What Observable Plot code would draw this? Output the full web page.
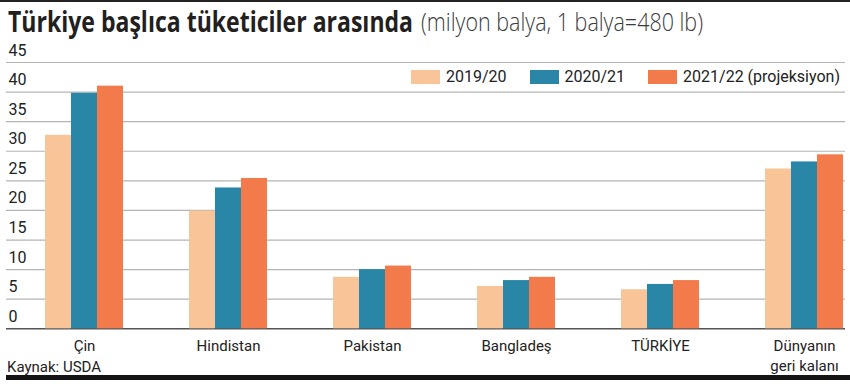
<!DOCTYPE html>
<html>
<head>
<meta charset="utf-8">
<script src="https://cdn.jsdelivr.net/npm/d3@7"></script>
<script src="https://cdn.jsdelivr.net/npm/@observablehq/plot@0.6"></script>
<style>
  html, body { margin: 0; padding: 0; background: #fff; }
  #wrap { position: relative; width: 850px; height: 384px; overflow: hidden; font-family: Roboto, "Open Sans", sans-serif; color: #222; }
  #topline { position: absolute; left: 0; top: 0; width: 850px; height: 2px; background: #222; }
  .ttl { position: absolute; display: inline-block; white-space: nowrap; transform-origin: 0 0; line-height: 1; }
  #t1 { left: 8px; top: 7px; font-family: "Open Sans", sans-serif; font-weight: 700; font-size: 28px; color: #231f20; }
  #t2 { left: 421px; top: 9px; font-family: "Open Sans", sans-serif; font-weight: 300; font-size: 25px; color: #3a3a3a; }
  .layer { position: absolute; left: 0; top: 40px; }
  #legend { position: absolute; right: 10px; top: 70px; display: flex; align-items: center; font-size: 16px; line-height: 14px; color: #222; }
  #legend .item { display: flex; align-items: center; margin-left: 23px; }
  #legend .sw { width: 29px; height: 14px; margin-right: 6px; }
  #caption { position: absolute; left: 7px; top: 358px; font-size: 15px; line-height: 18px; color: #222; }
  #bottombar { position: absolute; left: 6px; top: 375px; width: 844px; height: 5px; background: #141414; }
</style>
</head>
<body>
<div id="wrap">
  <div id="topline"></div>
  <span class="ttl" id="t1">Türkiye başlıca tüketiciler arasında</span>
  <span class="ttl" id="t2">(milyon balya, 1 balya=480 lb)</span>
  <div class="layer" id="grid"></div>
  <div class="layer" id="chart"></div>
  <div id="legend"></div>
  <div id="caption">Kaynak: USDA</div>
  <div id="bottombar"></div>
</div>
<script>
// ---- data ----
const countries = ["Çin", "Hindistan", "Pakistan", "Bangladeş", "TÜRKİYE", "Dünyanın\ngeri kalanı"];
const years = ["2019/20", "2020/21", "2021/22 (projeksiyon)"];
const v2019 = [32.7, 19.9, 8.7, 7.15, 6.6, 27.0];
const v2020 = [39.8, 23.8, 10.0, 8.15, 7.5, 28.2];
const v2021 = [41.0, 25.4, 10.6, 8.7, 8.15, 29.4];
const yTicks = [0, 5, 10, 15, 20, 25, 30, 35, 40, 45];
const colors = ["#f9c497", "#2986a7", "#f27a4b"];

const series = [v2019, v2020, v2021];
const data = countries.flatMap((c, i) => years.map((y, j) => ({country: c, year: y, value: series[j][i]})));

const common = {
  width: 850,
  height: 335,
  marginLeft: 6,
  marginRight: 5,
  marginTop: 22,
  marginBottom: 46.7,
  style: {fontFamily: "Roboto, 'Open Sans', sans-serif", color: "#222", background: "transparent", overflow: "visible"},
  y: {domain: [0, 45], axis: null}
};

// background layer: gridlines, tick labels, baseline
const gridPlot = Plot.plot({
  ...common,
  marks: [
    Plot.ruleY(yTicks.filter(d => d > 0), {stroke: "#b4b4b4", strokeWidth: 1.2}),
    Plot.text(yTicks, {y: d => d, text: d => String(d), frameAnchor: "left", textAnchor: "start", lineAnchor: "bottom", dx: 2, dy: -7, fontSize: 16, fill: "#222"}),
    Plot.ruleY([0], {stroke: "#555", strokeWidth: 1.6})
  ]
});
document.getElementById("grid").appendChild(gridPlot);

// foreground layer: grouped bars with category axis
const barPlot = Plot.plot({
  ...common,
  fx: {domain: countries, paddingInner: 0.442, paddingOuter: 0.126, align: 0.98, label: null},
  x: {domain: years, padding: 0, axis: null},
  color: {domain: years, range: colors},
  marks: [
    Plot.barY(data, {fx: "country", x: "year", y: "value", fill: "year"}),
    Plot.axisFx({anchor: "bottom", tickSize: 0, tickPadding: 8, fontSize: 15, lineHeight: 1.35, label: null, fill: "#222"})
  ]
});
document.getElementById("chart").appendChild(barPlot);

// legend
const legend = document.getElementById("legend");
years.forEach((y, i) => {
  const item = document.createElement("div");
  item.className = "item";
  const sw = document.createElement("div");
  sw.className = "sw";
  sw.style.background = colors[i];
  const t = document.createElement("span");
  t.textContent = y;
  item.appendChild(sw);
  item.appendChild(t);
  legend.appendChild(item);
});

// fit title widths
function fit(id, target) {
  const el = document.getElementById(id);
  const w = el.getBoundingClientRect().width;
  if (w > 0) el.style.transform = `scaleX(${target / w})`;
}
fit("t1", 405);
fit("t2", 282);
</script>
</body>
</html>
